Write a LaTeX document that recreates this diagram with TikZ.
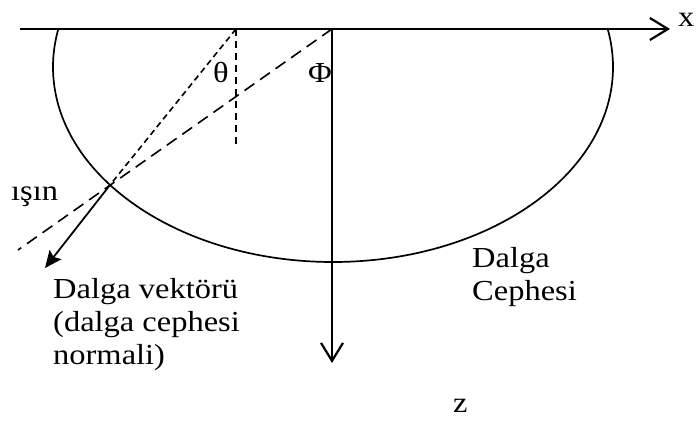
\documentclass[tikz,border=0pt]{standalone}
\usepackage{fontspec}
\setmainfont{Liberation Serif}[FakeStretch=1.12]
\usetikzlibrary{arrows.meta}

\begin{document}
\begin{tikzpicture}[x=1pt, y=-1pt,
    axis/.style={line width=2.2pt, -{Straight Barb[length=18pt, width=22pt, line width=2.2pt]}},
    front/.style={line width=1.7pt},
    ray/.style={line width=1.6pt, dash pattern=on 12pt off 7pt},
    ray2/.style={line width=1.6pt, dash pattern=on 6pt off 4pt},
    normal/.style={line width=1.6pt, dash pattern=on 7pt off 5pt},
    wavevec/.style={line width=1.8pt, -{Stealth[length=17pt, width=15pt, inset=3pt]}},
    txt/.style={inner sep=0pt, anchor=base west, font=\fontsize{29}{33}\selectfont}
]
\useasboundingbox (0,0) rectangle (696,421);

% Points
\coordinate (xs) at (20,29);
\coordinate (xe) at (670,29);
\coordinate (O) at (332,29);
\coordinate (ze) at (332,363);
\coordinate (A) at (236,29);
\coordinate (Ab) at (236,147);
\coordinate (P) at (110,185);
\coordinate (R) at (18,250);
\coordinate (K) at (45,268);

% Wave front
\begin{scope}
  \clip (0,29) rectangle (696,421);
  \draw[front] (333,67) ellipse [x radius=280, y radius=195];
\end{scope}

% Rays
\draw[ray] (O) -- (R);
\draw[ray2] (A) -- (P);
\draw[normal] (A) -- (Ab);
\draw[wavevec] (P) -- (K);

% Axes
\draw[axis] (xs) -- (xe);
\draw[axis] (O) -- (ze);

% Labels (base of a multi-line node = its last line)
\node[txt] (xl) at (678,26) {x};
\node[txt] (zl) at (453,412) {z};
\node[txt] (th) at (213,82) {θ};
\node[txt] (ph) at (308,82) {Φ};
\node[txt] (isin) at (11,200) {ışın};
\node[txt, align=left] (vek) at (53,364) {Dalga vektörü\\(dalga cephesi\\normali)};
\node[txt, align=left] (cep) at (472,300) {Dalga\\Cephesi};

\end{tikzpicture}
\end{document}
